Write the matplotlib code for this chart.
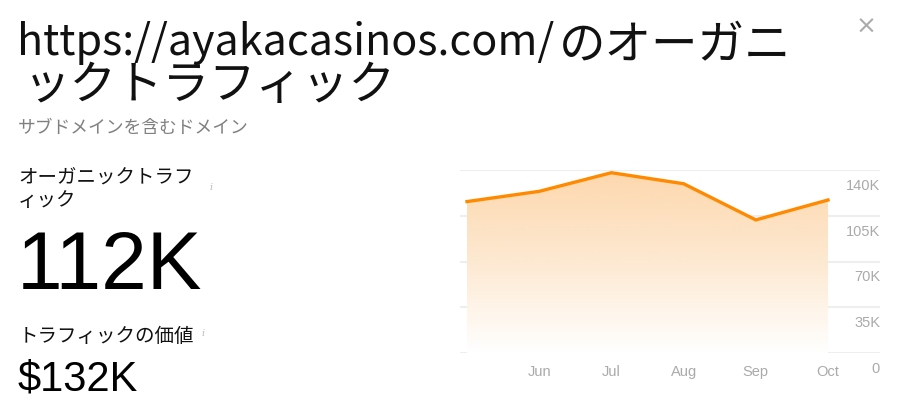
import numpy as np
import matplotlib
matplotlib.use("Agg")
import matplotlib.pyplot as plt
from matplotlib.colors import LinearSegmentedColormap

plt.rcParams['font.family'] = ['Noto Sans CJK JP', 'DejaVu Sans']

W, H = 902, 410

# ===================== DATA =====================
months = ["May", "Jun", "Jul", "Aug", "Sep", "Oct"]
month_labels = ["", "Jun", "Jul", "Aug", "Sep", "Oct"]
traffic = [115700, 123500, 137700, 129300, 101700, 116900]
y_ticks = [0, 35000, 70000, 105000, 140000]
y_tick_labels = ["0", "35K", "70K", "105K", "140K"]

title_url = "https://ayakacasinos.com/"
title_1 = "のオーガニ"
title_2 = "ックトラフィック"
subtitle = "サブドメインを含むドメイン"
metric_1_label = ["オーガニックトラフ", "ィック"]
metric_1_value = "112K"
metric_2_label = "トラフィックの価値"
metric_2_value = "$132K"

fig = plt.figure(figsize=(W / 100, H / 100), dpi=100)


def px(x, y):
    return x / W, 1 - y / H


# ===================== HEADER / METRICS =====================
fig.text(*px(17, 55), title_url, fontsize=31, color="#111111", va="baseline")
fig.text(*px(559, 58), title_1, fontsize=33.5, color="#111111", va="baseline")
fig.text(*px(24, 99), title_2, fontsize=33.5, color="#111111", va="baseline")
fig.text(*px(866, 27), "×", fontsize=18, color="#aaaaaa", ha="center", va="center",
         family="DejaVu Sans")
fig.text(*px(18, 133), subtitle, fontsize=12.8, color="#808080", va="baseline")

fig.text(*px(18, 184), metric_1_label[0], fontsize=14, color="#111111", va="baseline")
fig.text(*px(18, 206), metric_1_label[1], fontsize=14, color="#111111", va="baseline")
fig.text(*px(211, 188), "i", fontsize=7, color="#bbbbbb", ha="center", va="center",
         family="DejaVu Serif", style="italic")
fig.text(*px(17, 289), metric_1_value, fontsize=59, color="#000000", va="baseline",
         family="Liberation Sans")

fig.text(*px(19, 342), metric_2_label, fontsize=14, color="#111111", va="baseline")
fig.text(*px(203, 333), "i", fontsize=7, color="#bbbbbb", ha="center", va="center",
         family="DejaVu Serif", style="italic")
fig.text(*px(18, 391), metric_2_value, fontsize=30, color="#000000", va="baseline",
         family="Liberation Sans")

# ===================== CHART =====================
left, right, top, bottom = 460, 880, 170.7, 354.3
ax = fig.add_axes([left / W, 1 - bottom / H, (right - left) / W, (bottom - top) / H])

x = np.arange(len(months))
ax.set_xlim(-0.097, 5.72)
ax.set_ylim(0, 140000)

for v in y_ticks:
    ax.axhline(v, color="#eeeeee", lw=1.5, zorder=0)

# gradient fill under the line
poly = ax.fill_between(x, traffic, 0, color="none")
cmap = LinearSegmentedColormap.from_list("fade", ["#ffffff", "#fde9d2", "#fdd8ae"])
grad = np.linspace(0, 1, 256).reshape(-1, 1)
img = ax.imshow(grad, extent=[x[0], x[-1], 0, max(traffic)], origin="lower",
                aspect="auto", cmap=cmap, zorder=1)
img.set_clip_path(poly.get_paths()[0], transform=ax.transData)

ax.plot(x, traffic, color="#ff8a00", lw=2.4, solid_joinstyle="miter", zorder=3)

for v, lab in zip(y_ticks, y_tick_labels):
    ax.annotate(lab, xy=(1, v), xycoords=("axes fraction", "data"),
                xytext=(0, -15), textcoords="offset pixels",
                ha="right", va="center", fontsize=10.5, color="#aaaaaa",
                family="Liberation Sans")

ax.set_xticks(x)
ax.set_xticklabels(month_labels, fontsize=10.5, color="#aaaaaa", family="Liberation Sans")
ax.tick_params(axis="x", length=0, pad=8)
ax.set_yticks([])
for s in ax.spines.values():
    s.set_visible(False)
ax.patch.set_alpha(0)

fig.savefig("out.png", dpi=100)
